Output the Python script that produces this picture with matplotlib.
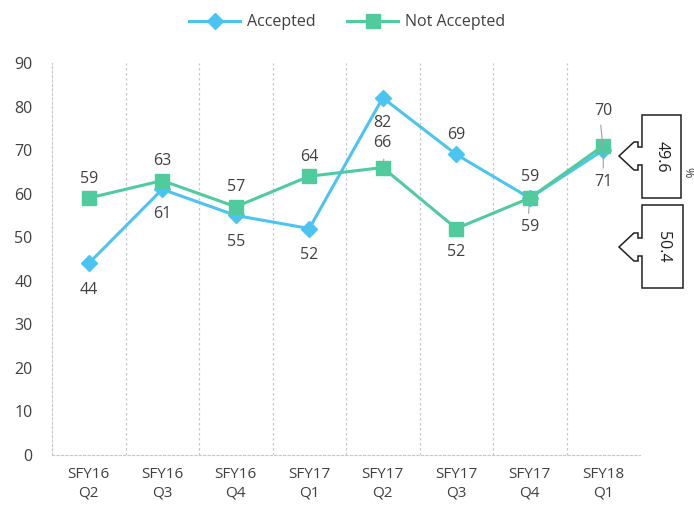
import matplotlib
matplotlib.use("Agg")
import matplotlib.pyplot as plt
from matplotlib.patches import Polygon

plt.rcParams['font.family'] = ['Open Sans', 'DejaVu Sans']

categories = ["SFY16\nQ2", "SFY16\nQ3", "SFY16\nQ4", "SFY17\nQ1",
              "SFY17\nQ2", "SFY17\nQ3", "SFY17\nQ4", "SFY18\nQ1"]
accepted = [44, 61, 55, 52, 82, 69, 59, 70]
not_accepted = [59, 63, 57, 64, 66, 52, 59, 71]
# label offsets in points: positive = above, negative = below
acc_label_dy = [-19, -18, -19, -19, -18, 14, 15, 28]
na_label_dy = [14, 14, 14, 14, 18, -17, -21, -26]
callout_values = ["49.6", "50.4"]

W, H = 694, 512
fig = plt.figure(figsize=(W / 100, H / 100), dpi=100)
ax = fig.add_axes([52 / W, 1 - 455 / H, (640 - 52) / W, (455 - 63) / H])

c_acc = '#4CC4F2'
c_na = '#4FCB9E'
x = list(range(len(categories)))

ax.plot(x, accepted, color=c_acc, lw=2.2, marker='D', ms=8, label='Accepted', zorder=3)
ax.plot(x, not_accepted, color=c_na, lw=2.2, marker='s', ms=10, label='Not Accepted', zorder=3)

ax.set_xlim(-0.5, len(categories) - 0.5)
ax.set_ylim(0, 90)
ax.set_yticks(range(0, 91, 10))
ax.set_xticks(x)
ax.set_xticklabels(categories, fontsize=11, color='#404040', linespacing=1.25)
ax.tick_params(axis='y', length=0, pad=14, labelsize=11.5, labelcolor='#404040')
ax.tick_params(axis='x', length=0, pad=9)

for b in range(1, len(categories)):
    ax.axvline(b - 0.5, color='#C8C8C8', lw=0.9, ls=(0, (2, 2)), zorder=1)
for s in ['top', 'right']:
    ax.spines[s].set_visible(False)
ax.spines['left'].set_color('#C8C8C8')
ax.spines['left'].set_linestyle((0, (2, 2)))
ax.spines['bottom'].set_color('#C8C8C8')
ax.spines['bottom'].set_linestyle((0, (2, 2)))

lab_kw = dict(textcoords='offset points', ha='center', va='center',
              fontsize=11.5, color='#404040', zorder=4)
for i, v in enumerate(accepted):
    ax.annotate(str(v), (i, v), xytext=(0, acc_label_dy[i]), **lab_kw)
for i, v in enumerate(not_accepted):
    ax.annotate(str(v), (i, v), xytext=(0, na_label_dy[i]), **lab_kw)

# leader lines
ax.annotate('', (4, not_accepted[4]), xytext=(1, 8), textcoords='offset points',
            arrowprops=dict(arrowstyle='-', color='#A0A0A0', lw=0.8))
ax.annotate('', (6, not_accepted[6]), xytext=(-1, -13), textcoords='offset points',
            arrowprops=dict(arrowstyle='-', color='#A0A0A0', lw=0.8))
ax.annotate('', (7, accepted[7]), xytext=(-2, 20), textcoords='offset points',
            arrowprops=dict(arrowstyle='-', color='#A0A0A0', lw=0.8))
ax.annotate('', (7, not_accepted[7]), xytext=(0, -18), textcoords='offset points',
            arrowprops=dict(arrowstyle='-', color='#A0A0A0', lw=0.8))

leg = fig.legend(loc='upper center', bbox_to_anchor=(0.5, 1.0), ncol=2, frameon=False,
                 fontsize=11.5, handlelength=3.2, columnspacing=2.0, handletextpad=0.4)
for t in leg.get_texts():
    t.set_color('#404040')

# callouts in pixel coords
def px(xp, yp):
    return (xp / W, 1 - yp / H)

def callout(x0, x1, y0, y1, yc, text):
    pts = [(x0, yc - 9), (x0 - 4, yc - 9), (x0 - 4, yc - 14), (x0 - 8, yc - 14),
           (x0 - 23, yc), (x0 - 8, yc + 14), (x0 - 4, yc + 14), (x0 - 4, yc + 9),
           (x0, yc + 9), (x0, y1), (x1, y1), (x1, y0), (x0, y0)]
    poly = Polygon([px(a, b) for a, b in pts], closed=True, facecolor='white',
                   edgecolor='#202020', lw=1.1, transform=fig.transFigure)
    fig.add_artist(poly)
    fig.text(*px((x0 + x1) / 2, (y0 + y1) / 2), text, rotation=-90, ha='center',
             va='center', fontsize=11.5, color='#202020')

callout(642, 681, 115, 198, 156, callout_values[0])
callout(642, 683, 205, 288, 247, callout_values[1])
fig.text(*px(688, 172), '%', rotation=-90, ha='center', va='center', fontsize=9, color='#404040')

fig.savefig('out.png', dpi=100)
